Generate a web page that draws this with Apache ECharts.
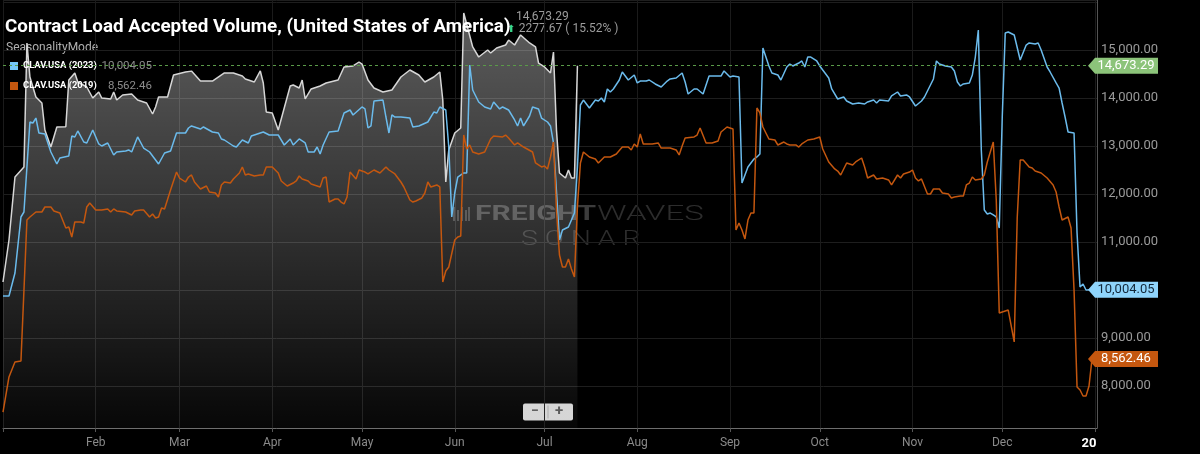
<!DOCTYPE html>
<html>
<head>
<meta charset="utf-8">
<title>Contract Load Accepted Volume</title>
<script src="https://cdn.jsdelivr.net/npm/echarts@6/dist/echarts.min.js"></script>
<style>
    html, body { margin: 0; padding: 0; background: #000; }
    #chart { width: 1200px; height: 454px; }
</style>
</head>
<body>
<div id="chart"></div>
<script>
// [day of year 2019 (1 = Jan 1), value]
const clavCurrent = [
    [1,10167],[3,11042],[5,12354],[8,12563],[9,15146],[10,14438],[12,14021],[14,13896],[15,13333],[17,12979],
    [19,13396],[22,13400],[23,14375],[25,14521],[26,14333],[29,14229],[31,14000],[33,14125],[34,14000],[37,13979],
    [38,14125],[39,13958],[41,14063],[44,14083],[46,13958],[49,13896],[51,13667],[52,13813],[53,14021],[56,14021],
    [58,14479],[62,14542],[64,14560],[67,14354],[71,14354],[75,14521],[78,14521],[81,14458],[82,14396],[85,14333],
    [87,14563],[88,14313],[89,13708],[91,13688],[93,13333],[97,14250],[98,14271],[100,14208],[101,14375],[102,13980],
    [104,14188],[107,14250],[109,14313],[113,14375],[115,14646],[118,14667],[120,14750],[121,14708],[123,14375],[125,14208],
    [128,14125],[131,14167],[134,14438],[137,14583],[140,14479],[142,14333],[145,14438],[147,14542],[148,13958],[149,12250],
    [150,12917],[152,13271],[154,13375],[155,15771],[158,15063],[160,14854],[163,15000],[164,14938],[166,15042],[169,15104],
    [170,15208],[172,15104],[174,15313],[177,15146],[179,15063],[180,14729],[182,14646],[184,14521],[185,14958],[186,13333],
    [187,12438],[189,12333],[190,12500],[191,12333],[192,12333],[193,14673.29]
];

const clav2023 = [
    [1,9875],[3,9875],[5,10354],[7,11521],[8,11625],[10,13500],[11,13479],[12,13583],[13,13271],[15,13250],
    [17,12875],[19,12625],[20,12750],[23,12792],[24,13208],[25,13188],[26,13313],[28,13083],[29,13063],[31,13333],
    [33,13042],[34,13000],[36,13063],[38,12813],[39,12875],[42,12896],[43,12917],[44,12875],[46,13188],[48,12958],
    [50,12875],[53,12625],[55,12854],[57,12896],[59,13271],[62,13271],[63,13375],[64,13417],[67,13354],[68,13396],
    [71,13292],[73,13271],[74,13146],[75,13125],[78,13000],[79,12979],[81,13125],[83,13063],[84,13208],[86,13250],
    [88,13292],[90,13229],[93,13229],[95,13021],[97,13146],[98,13021],[100,13146],[102,13063],[103,12875],[105,12875],
    [106,12979],[107,12833],[108,13021],[110,13292],[113,13313],[115,13688],[117,13750],[118,13646],[121,13813],[122,13771],
    [123,13375],[124,13417],[125,13938],[128,13958],[129,13604],[130,13271],[131,13646],[132,13604],[134,13604],[137,13583],
    [138,13396],[140,13417],[143,13500],[145,13708],[146,13688],[147,13813],[149,13750],[150,12979],[151,11521],[152,12021],
    [153,12354],[155,12438],[156,12438],[157,14688],[158,14167],[160,13917],[162,13813],[164,13771],[165,13917],[167,13771],
    [168,13813],[170,13750],[172,13542],[173,13417],[174,13583],[175,13417],[177,13625],[178,13813],[180,13771],[181,13583],
    [183,13500],[184,13417],[185,13063],[187,11042],[188,11250],[190,11313],[192,11604],[193,12563],[194,13854],[195,13958],
    [197,13792],[199,13958],[200,13938],[201,14000],[202,13917],[203,14188],[204,14125],[205,14188],[207,14375],[208,14542],
    [210,14375],[212,14479],[213,14313],[214,14354],[216,14354],[217,14375],[219,14292],[221,14229],[223,14354],[224,14396],
    [226,14417],[228,14521],[229,14333],[230,14083],[232,14188],[233,14188],[235,14083],[237,14458],[238,14458],[241,14458],
    [242,14563],[244,14438],[245,14458],[247,14438],[248,12229],[249,12396],[250,12563],[252,12729],[253,12771],[254,12833],
    [255,15042],[257,14667],[258,14521],[260,14479],[261,14375],[263,14646],[264,14708],[265,14667],[267,14729],[268,14771],
    [269,14646],[270,14854],[271,14854],[273,14771],[274,14667],[277,14417],[278,14188],[280,13979],[282,14021],[283,13938],
    [285,13875],[287,13896],[289,13875],[290,13917],[292,13958],[293,13896],[294,13958],[297,13938],[298,14042],[300,14125],
    [301,14042],[303,14063],[304,14021],[306,13833],[308,13938],[309,14021],[311,14271],[312,14396],[313,14771],[314,14708],
    [316,14667],[318,14646],[319,14563],[320,14333],[321,14250],[322,14292],[324,14313],[325,14479],[326,14854],[327,15417],
    [328,12917],[329,11667],[330,11583],[331,11604],[332,11563],[333,11521],[334,11292],[335,13604],[336,15354],[337,15375],
    [339,15313],[341,14792],[343,15104],[344,15146],[346,15125],[347,15146],[348,15000],[350,14646],[351,14542],[353,14313],
    [354,14208],[355,13896],[356,13604],[357,13292],[359,13271],[360,11188],[361,10063],[362,10125],[363,10000],[365,10004.05]
];

const clav2019 = [
    [1,7458],[3,8188],[5,8500],[7,8521],[9,11458],[10,11521],[12,11625],[14,11625],[15,11729],[17,11729],
    [18,11646],[20,11604],[22,11292],[23,11313],[24,11104],[25,11417],[27,11417],[28,11396],[29,11729],[30,11813],
    [32,11667],[34,11667],[36,11688],[37,11625],[38,11688],[39,11646],[42,11625],[44,11563],[45,11646],[47,11667],
    [48,11667],[50,11521],[51,11583],[52,11500],[53,11521],[54,11708],[55,11688],[57,12083],[59,12458],[60,12333],
    [62,12250],[63,12354],[64,12396],[65,12250],[67,12104],[69,12167],[70,12042],[72,12021],[73,11938],[74,12188],
    [75,12250],[77,12229],[78,12313],[80,12438],[81,12563],[82,12396],[83,12417],[85,12375],[87,12396],[88,12396],
    [89,12563],[91,12563],[93,12438],[94,12271],[96,12167],[98,12229],[99,12271],[100,12375],[101,12313],[103,12271],
    [104,12208],[106,12167],[107,12146],[108,12333],[109,12354],[110,11833],[112,11896],[113,11896],[114,11833],[115,11792],
    [116,11938],[117,12458],[119,12313],[120,12500],[122,12458],[123,12417],[125,12500],[127,12438],[128,12500],[129,12563],
    [130,12500],[132,12417],[134,12250],[135,12146],[137,11875],[138,11833],[139,11854],[141,11917],[142,12021],[143,12250],
    [144,12146],[146,12188],[147,12146],[148,10167],[149,10396],[150,10479],[152,11042],[153,11104],[154,11125],[155,13229],
    [156,12938],[157,13021],[158,12875],[160,12833],[162,12875],[164,13146],[165,13208],[168,13188],[169,13229],[170,13167],
    [172,13021],[173,13063],[175,12979],[178,12875],[179,12646],[181,12563],[182,12583],[183,12521],[184,12771],[185,13083],
    [186,11667],[187,10729],[188,10479],[189,10479],[190,10646],[191,10438],[192,10271],[193,11729],[194,12646],[195,12875],
    [197,12771],[199,12729],[200,12646],[202,12771],[204,12771],[206,12833],[208,12979],[210,12979],[211,12917],[212,13042],
    [213,12979],[214,13250],[215,13042],[218,13042],[220,13063],[221,12958],[224,12958],[226,12917],[227,12813],[228,13000],
    [229,13167],[232,13188],[233,13229],[234,13375],[236,13063],[238,13063],[240,13104],[241,13292],[243,13396],[245,13354],
    [246,11250],[247,11396],[248,11250],[249,11063],[250,11458],[251,11604],[252,11604],[253,13792],[254,13688],[255,13396],
    [257,13146],[259,13125],[260,13021],[262,13083],[263,13042],[264,13021],[266,13021],[267,12979],[268,13042],[270,13125],
    [272,13146],[274,13188],[275,12938],[277,12667],[279,12521],[280,12479],[281,12396],[283,12646],[285,12604],[286,12667],
    [288,12750],[289,12563],[290,12333],[292,12396],[293,12313],[295,12333],[297,12292],[298,12188],[300,12396],[301,12333],
    [302,12417],[304,12458],[305,12500],[306,12333],[307,12271],[308,12313],[310,12000],[311,12000],[312,12104],[314,12104],
    [315,12021],[317,12000],[318,11917],[319,11938],[321,11958],[322,11958],[323,12188],[324,12229],[325,12354],[326,12292],
    [328,12313],[329,12396],[330,12667],[332,13083],[333,11875],[334,9521],[335,9542],[337,9583],[339,8917],[340,11500],
    [341,12708],[342,12708],[344,12563],[345,12542],[346,12479],[348,12438],[350,12333],[352,12188],[353,12042],[354,11729],
    [355,11458],[357,11521],[358,11292],[359,10000],[360,7979],[361,7917],[362,7792],[363,7792],[364,8000],[365,8562.46]
];

const seriesNames = ['CLAV.USA', 'CLAV.USA (2023)', 'CLAV.USA (2019)'];
const monthNames = ['Jan', 'Feb', 'Mar', 'Apr', 'May', 'Jun', 'Jul', 'Aug', 'Sep', 'Oct', 'Nov', 'Dec'];
const changeAbs = 2277.67;
const changePct = 15.52;

const DAY = 86400000;
const xMin = new Date(2019, 0, 1).getTime();
const xMax = xMin + 365.67 * DAY;
const lastGreen = '#5a9a48';

const toPoints = arr => arr.map(([d, v]) => [new Date(2019, 0, d).getTime(), v]);
const fmt = v => v.toLocaleString('en-US', { minimumFractionDigits: 2, maximumFractionDigits: 2 });
const last = arr => arr[arr.length - 1][1];

// price-tag shaped marker sitting on the right axis
function endTag(value, bg, fg) {
    return {
        symbol: 'path://M0,8 L7,0 L70,0 L70,16 L7,16 Z',
        symbolSize: [70, 16],
        symbolOffset: [26, 0],
        silent: true,
        itemStyle: { color: bg },
        label: {
            show: true,
            position: 'inside',
            offset: [3, 0],
            color: fg,
            fontSize: 13,
            fontFamily: 'Roboto',
            formatter: () => fmt(value)
        },
        data: [{ coord: [xMax, value] }]
    };
}

const chart = echarts.init(document.getElementById('chart'));

const option = {
    backgroundColor: '#000',
    animation: false,
    title: {
        text: 'Contract Load Accepted Volume, (United States of America)',
        left: 5,
        top: 18,
        padding: 0,
        textStyle: {
            color: '#fff',
            fontSize: 18.8,
            fontWeight: 'bold',
            fontFamily: 'Roboto'
        }
    },
    legend: {
        data: [seriesNames[1], seriesNames[2]],
        orient: 'vertical',
        left: 10,
        top: 60,
        padding: 0,
        itemWidth: 8,
        itemHeight: 8,
        itemGap: 8,
        icon: 'rect',
        selectedMode: false,
        formatter: name => {
            const v = name === seriesNames[1] ? last(clav2023) : last(clav2019);
            return '{n|' + name + '}{v|' + fmt(v) + '}';
        },
        textStyle: {
            rich: {
                n: { color: '#fff', fontWeight: 'bold', fontSize: 9.4, fontFamily: 'Roboto', width: 75 },
                v: { color: '#8c8c8c', fontSize: 11.5, fontFamily: 'Roboto', width: 54, align: 'right' }
            }
        }
    },
    grid: { left: 0, right: 103, top: 0, bottom: 26 },
    xAxis: {
        type: 'time',
        min: xMin,
        max: xMax,
        splitNumber: 12,
        axisLine: { lineStyle: { color: '#6e6e6e' } },
        axisTick: { show: true, length: 4, lineStyle: { color: '#555' } },
        splitLine: { show: true, lineStyle: { color: '#1b1b1b' } },
        axisLabel: {
            color: '#8a8a8a',
            fontSize: 12,
            fontFamily: 'Roboto',
            margin: 9,
            formatter: value => {
                const d = new Date(value);
                if (d.getDate() !== 1) return '';
                if (d.getMonth() === 0) {
                    return d.getFullYear() === 2019 ? '' : '{yr|' + String(d.getFullYear()).slice(2) + '}';
                }
                return monthNames[d.getMonth()];
            },
            rich: { yr: { color: '#fff', fontWeight: 'bold', fontSize: 13, fontFamily: 'Roboto', padding: [0, 12, 0, 0] } }
        }
    },
    yAxis: {
        type: 'value',
        position: 'right',
        min: 7125,
        max: 16041.67,
        splitNumber: 9,
        minInterval: 1000,
        maxInterval: 1000,
        axisLine: { show: true, lineStyle: { color: '#555' } },
        axisTick: { show: false },
        splitLine: { lineStyle: { color: '#1e1e1e' } },
        axisLabel: {
            color: '#9a9a9a',
            fontSize: 13,
            fontFamily: 'Roboto',
            margin: 4,
            formatter: v => (v % 1000 === 0 && v < 16000 ? fmt(v) : '')
        }
    },
    series: [
        {
            name: seriesNames[0],
            type: 'line',
            data: toPoints(clavCurrent),
            showSymbol: false,
            clip: false,
            lineStyle: { color: '#d6d6d6', width: 1.5 },
            itemStyle: { color: '#d6d6d6' },
            areaStyle: {
                color: new echarts.graphic.LinearGradient(0, 0, 0, 1, [
                    { offset: 0, color: 'rgba(255,255,255,0.52)' },
                    { offset: 1, color: 'rgba(255,255,255,0.04)' }
                ])
            },
            markPoint: endTag(last(clavCurrent), '#8cc47a', '#fff')
        },
        {
            // carrier for the dashed "last value" guide line
            name: 'last',
            type: 'line',
            data: [],
            color: lastGreen,
            itemStyle: { color: lastGreen },
            lineStyle: { color: lastGreen, width: 1 },
            z: 3,
            markLine: {
                silent: true,
                symbol: 'none',
                label: { show: false },
                lineStyle: { color: lastGreen, type: [3, 3], width: 1 },
                data: [{ yAxis: last(clavCurrent) }]
            }
        },
        {
            name: seriesNames[1],
            type: 'line',
            data: toPoints(clav2023),
            showSymbol: false,
            clip: false,
            lineStyle: { color: '#6bbbec', width: 1.5 },
            itemStyle: { color: '#74c8f8' },
            markPoint: endTag(last(clav2023), '#8fd4fb', '#13283a')
        },
        {
            name: seriesNames[2],
            type: 'line',
            data: toPoints(clav2019),
            showSymbol: false,
            clip: false,
            lineStyle: { color: '#c4570f', width: 1.5 },
            itemStyle: { color: '#c4570f' },
            markPoint: endTag(last(clav2019), '#c4570f', '#fff')
        }
    ],
    graphic: [
        {
            type: 'text', left: 6, top: 42,
            style: { text: 'SeasonalityMode', fill: '#b0b0b0', font: '12px Roboto' }
        },
        {
            type: 'text', left: 516, top: 11,
            style: { text: fmt(last(clavCurrent)), fill: '#9c9c9c', font: '12px Roboto' }
        },
        {
            type: 'text', left: 507, top: 23,
            style: {
                text: '{a|⬆} {b|' + changeAbs + ' ( ' + changePct + '% )}',
                rich: {
                    a: { fill: '#39d68b', font: '10px "DejaVu Sans"' },
                    b: { fill: '#9c9c9c', font: '12px Roboto' }
                }
            }
        },
        {
            type: 'group', left: 453, top: 205, z: 10, silent: true,
            children: [
                { type: 'rect', shape: { x: 0, y: 2, width: 2, height: 14 }, style: { fill: 'rgba(150,150,150,0.35)' } },
                { type: 'rect', shape: { x: 4, y: 5, width: 2, height: 11 }, style: { fill: 'rgba(150,150,150,0.35)' } },
                { type: 'rect', shape: { x: 8, y: 2, width: 2, height: 14 }, style: { fill: 'rgba(150,150,150,0.35)' } },
                { type: 'rect', shape: { x: 12, y: 5, width: 2, height: 11 }, style: { fill: 'rgba(150,150,150,0.35)' } },
                { type: 'rect', shape: { x: 15, y: 2, width: 2, height: 14 }, style: { fill: 'rgba(150,150,150,0.35)' } },
                { type: 'text', x: 22, y: 0, scaleX: 1.5, style: { text: 'FREIGHT', fill: 'rgba(150,150,150,0.4)', font: 'bold 20px Roboto' } },
                { type: 'text', x: 144, y: 0, scaleX: 1.65, style: { text: 'WAVES', fill: 'rgba(150,150,150,0.3)', font: '300 20px Roboto' } },
                { type: 'text', x: 68, y: 24, scaleX: 1.35, style: { text: 'S O N A R', fill: 'rgba(150,150,150,0.3)', font: '300 21px Roboto' } }
            ]
        },
        {
            type: 'group', left: 523, top: 403, z: 10,
            children: [
                { type: 'rect', shape: { x: 0, y: 0, width: 50, height: 17, r: 2 }, style: { fill: '#d4d4d4' } },
                { type: 'line', shape: { x1: 25, y1: 2, x2: 25, y2: 15 }, style: { stroke: '#a8a8a8', lineWidth: 1 } },
                { type: 'text', x: 8, y: 1, style: { text: '−', fill: '#555', font: 'bold 14px Roboto' } },
                { type: 'text', x: 32, y: 0, style: { text: '+', fill: '#555', font: 'bold 15px Roboto' } }
            ]
        }
    ]
};

chart.setOption(option);
window.addEventListener('resize', () => chart.resize());
</script>
</body>
</html>
